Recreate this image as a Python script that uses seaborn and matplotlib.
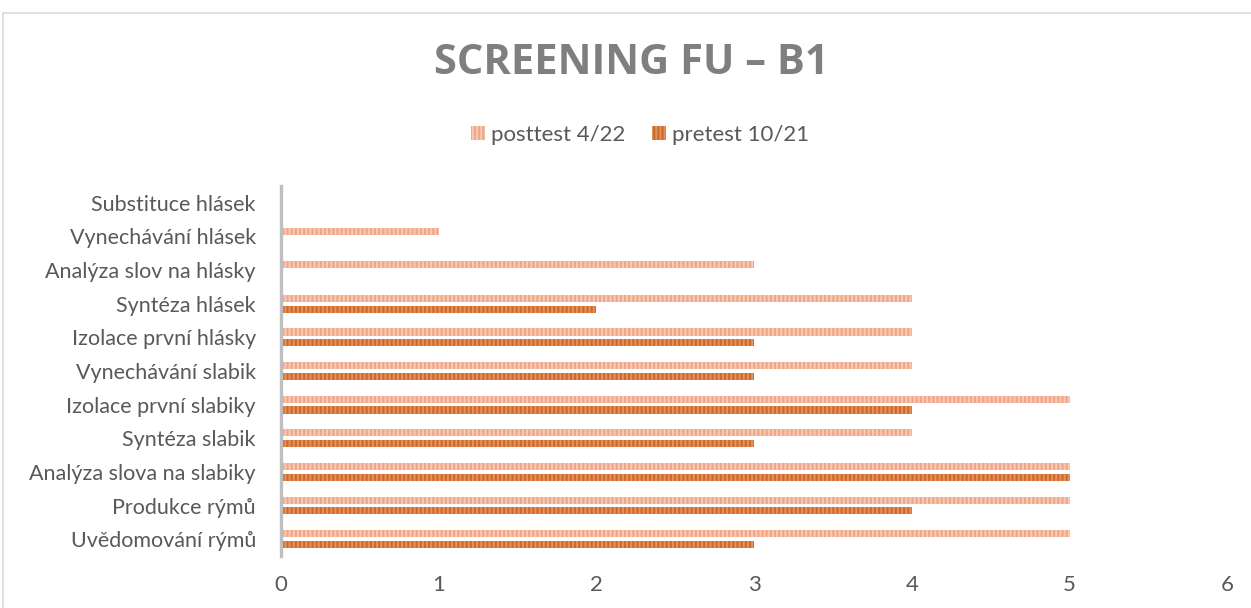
import matplotlib
matplotlib.use("Agg")
import matplotlib.pyplot as plt
import seaborn as sns
import pandas as pd
from matplotlib.patches import Patch, Rectangle

categories = ["Substituce hlásek", "Vynechávání hlásek", "Analýza slov na hlásky",
              "Syntéza hlásek", "Izolace první hlásky", "Vynechávání slabik",
              "Izolace první slabiky", "Syntéza slabik", "Analýza slova na slabiky",
              "Produkce rýmů", "Uvědomování rýmů"]
posttest = [0, 1, 3, 4, 4, 4, 5, 4, 5, 5, 5]
pretest = [0, 0, 0, 2, 3, 3, 4, 3, 5, 4, 3]
series = ["posttest 4/22", "pretest 10/21"]
x_ticks = [0, 1, 2, 3, 4, 5, 6]

face = {"posttest 4/22": "#F1A687", "pretest 10/21": "#D06A2B"}
stripe = {"posttest 4/22": "#F8CBB6", "pretest 10/21": "#E3935F"}

df = pd.DataFrame({
    "cat": categories * 2,
    "value": posttest + pretest,
    "series": [series[0]] * len(categories) + [series[1]] * len(categories),
})

sns.set_theme(style="white")
plt.rcParams["font.family"] = ["Lato", "DejaVu Sans"]
plt.rcParams["hatch.linewidth"] = 1.4
txt = "#595959"

fig = plt.figure(figsize=(12.51, 6.08), dpi=100)
ax = fig.add_axes([0.2246, 0.0855, 0.981 - 0.2246, 0.694 - 0.0855])

sns.barplot(data=df, y="cat", x="value", hue="series", hue_order=series,
            order=categories, orient="h", palette=face, width=0.64, gap=0.34,
            ax=ax, legend=False, saturation=1)

for cont, s in zip(ax.containers, series):
    for bar in cont:
        bar.set_hatch("||||")
        bar.set_edgecolor(stripe[s])
        bar.set_linewidth(0)

ax.set_xlim(0, 6)
ax.set_ylim(len(categories) - 0.5, -0.5)
ax.set_xticks(x_ticks)
ax.set_xlabel("")
ax.set_ylabel("")
for sp in ["top", "right", "bottom"]:
    ax.spines[sp].set_visible(False)
ax.spines["left"].set_color("#BFBFBF")
ax.spines["left"].set_linewidth(2.4)
ax.tick_params(axis="y", length=0, pad=18, labelsize=15.5, labelcolor=txt)
ax.tick_params(axis="x", length=0, pad=14, labelsize=16, labelcolor=txt)

handles = [Patch(facecolor=face[s], edgecolor=stripe[s], hatch="||||", linewidth=0)
           for s in series]
fig.legend(handles, series, loc="center", bbox_to_anchor=(0.512, 0.778), ncol=2,
           frameon=False, fontsize=16, handlelength=0.6, handleheight=0.6,
           handletextpad=0.3, columnspacing=1.2, labelcolor=txt)

fig.text(0.505, 0.896, "SCREENING FU – B1", ha="center", va="center",
         fontsize=30, fontweight="bold", color="#7F7F7F", family=["Open Sans", "DejaVu Sans"])

fig.patches.append(Rectangle((3 / 1251, -0.1), 1.2, 1 - 13 / 608 + 0.1,
                             transform=fig.transFigure, fill=False,
                             edgecolor="#D9D9D9", linewidth=1.2))

fig.savefig("out.png", dpi=100)
